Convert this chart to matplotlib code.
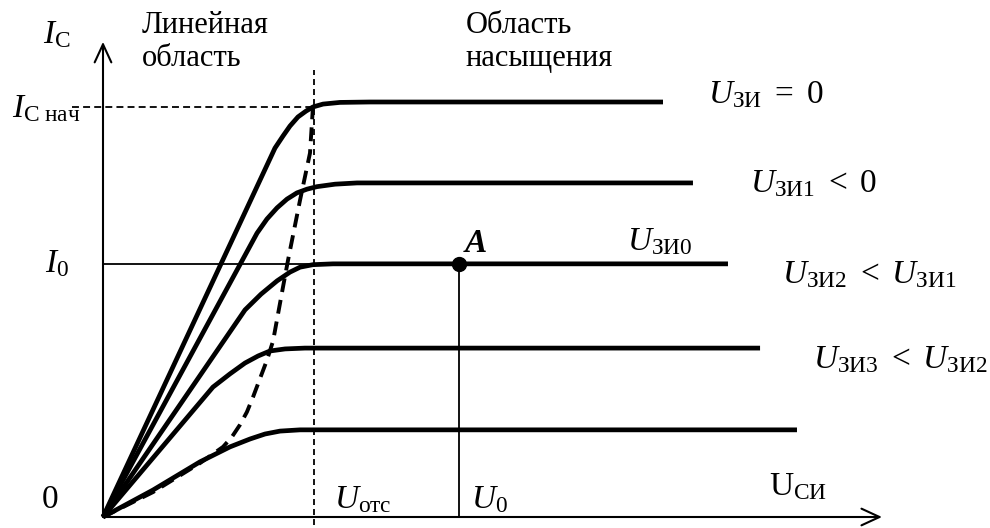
import matplotlib
matplotlib.use("Agg")
import matplotlib.pyplot as plt

plt.rcParams['font.family'] = ['Liberation Serif', 'DejaVu Serif']
plt.rcParams['mathtext.fontset'] = 'custom'
plt.rcParams['mathtext.rm'] = 'Liberation Serif'
plt.rcParams['mathtext.it'] = 'Liberation Serif:italic'
plt.rcParams['mathtext.bf'] = 'Liberation Serif:bold'
plt.rcParams['lines.scale_dashes'] = False

# output curves, U_CИ in units of U_отс, I_C in units of I_C нач
u0 = [0, 0.815, 0.853, 0.886, 0.924, 0.962, 0.995, 1.043, 1.123, 1.265, 2.654]
i0 = [0, 0.889, 0.918, 0.942, 0.964, 0.978, 0.988, 0.995, 0.999, 1.0, 1.0]
u1 = [0, 0.730, 0.777, 0.825, 0.872, 0.919, 0.967, 1.014, 1.100, 1.204, 2.796]
i1 = [0, 0.684, 0.718, 0.745, 0.766, 0.781, 0.790, 0.796, 0.802, 0.805, 0.805]
u2 = [0, 0.673, 0.749, 0.825, 0.886, 0.934, 0.995, 1.090, 2.962]
i2 = [0, 0.499, 0.537, 0.569, 0.590, 0.602, 0.608, 0.610, 0.610]
u3 = [0, 0.521, 0.602, 0.673, 0.735, 0.791, 0.863, 0.957, 3.114]
i3 = [0, 0.313, 0.345, 0.371, 0.388, 0.400, 0.405, 0.407, 0.407]
u4 = [0, 0.237, 0.460, 0.602, 0.697, 0.768, 0.839, 0.934, 3.289]
i4 = [0, 0.065, 0.133, 0.169, 0.188, 0.200, 0.207, 0.210, 0.210]

# saturation boundary (dashed)
u_sat = [0, 0.237, 0.460, 0.569, 0.611, 0.649, 0.682, 0.711, 0.777, 0.806, 0.853, 0.877, 0.934, 0.981, 0.995]
i_sat = [0, 0.060, 0.130, 0.169, 0.193, 0.222, 0.253, 0.289, 0.378, 0.424, 0.554, 0.619, 0.764, 0.877, 0.988]

U_ots = 1.0
I_nach = 0.988
U_A = 1.687
I_A = 0.610
u_max = 3.692
i_max = 1.145

fig = plt.figure(figsize=(9.9, 5.28), dpi=100)
ax = fig.add_axes([0, 0, 1, 1])
ax.set_xlim(-103 / 211, 887 / 211)
ax.set_ylim(-11 / 415, 517 / 415)
ax.axis('off')

# axes with open arrows
arr = dict(arrowstyle='->, head_length=1.3, head_width=0.6', lw=1.5, color='black',
           shrinkA=0, shrinkB=0)
ax.annotate('', xy=(u_max, 0), xytext=(0, 0), arrowprops=arr)
ax.annotate('', xy=(0, i_max), xytext=(0, 0), arrowprops=arr)

# helper lines
ax.plot([U_ots, U_ots], [-0.019, 1.077], color='black', lw=1.3, dashes=(4.3, 2.9))
ax.plot([-0.147, U_ots], [I_nach, I_nach], color='black', lw=1.3, dashes=(5, 3))
ax.plot([0, U_A], [I_A, I_A], color='black', lw=1.3)
ax.plot([U_A, U_A], [0, I_A], color='black', lw=1.3)

for u, i in [(u0, i0), (u1, i1), (u2, i2), (u3, i3), (u4, i4)]:
    ax.plot(u, i, color='black', lw=3.4, solid_joinstyle='round', solid_capstyle='butt')

ax.plot(u_sat, i_sat, color='black', lw=2.8, dashes=(10, 5.8))
ax.plot([U_A], [I_A], 'o', color='black', ms=10)

fs = 24
ft = 22
ax.text(-0.284, 1.142, r'$I_{\mathrm{C}}$', fontsize=fs)
ax.text(0.185, 1.166, 'Линейная', fontsize=ft)
ax.text(0.185, 1.087, 'область', fontsize=ft)
ax.text(1.72, 1.166, 'Область', fontsize=ft)
ax.text(1.72, 1.087, 'насыщения', fontsize=ft)
ax.text(-0.431, 0.964, r'$I_{\mathrm{C\ нач}}$', fontsize=fs)
ax.text(-0.275, 0.590, r'$I_0$', fontsize=fs)
ax.text(-0.289, 0.022, '0', fontsize=fs)
ax.text(1.095, 0.022, r'$U_{\mathrm{отс}}$', fontsize=fs)
ax.text(1.744, 0.022, r'$U_0$', fontsize=fs)
ax.text(3.156, 0.053, r'$\mathrm{U}_{\mathrm{СИ}}$', fontsize=fs)
ax.text(2.867, 0.998, r'$U_{\mathrm{ЗИ}}\ =\ 0$', fontsize=fs)
ax.text(3.066, 0.783, r'$U_{\mathrm{ЗИ1}}\ <\ 0$', fontsize=fs)
ax.text(2.483, 0.643, r'$U_{\mathrm{ЗИ0}}$', fontsize=fs)
ax.text(3.218, 0.564, r'$U_{\mathrm{ЗИ2}}\ <\ U_{\mathrm{ЗИ1}}$', fontsize=fs)
ax.text(3.365, 0.359, r'$U_{\mathrm{ЗИ3}}\ <\ U_{\mathrm{ЗИ2}}$', fontsize=fs)
ax.text(1.716, 0.639, 'A', fontsize=fs, fontstyle='italic', fontweight='bold')

fig.savefig('out.png', dpi=100)
